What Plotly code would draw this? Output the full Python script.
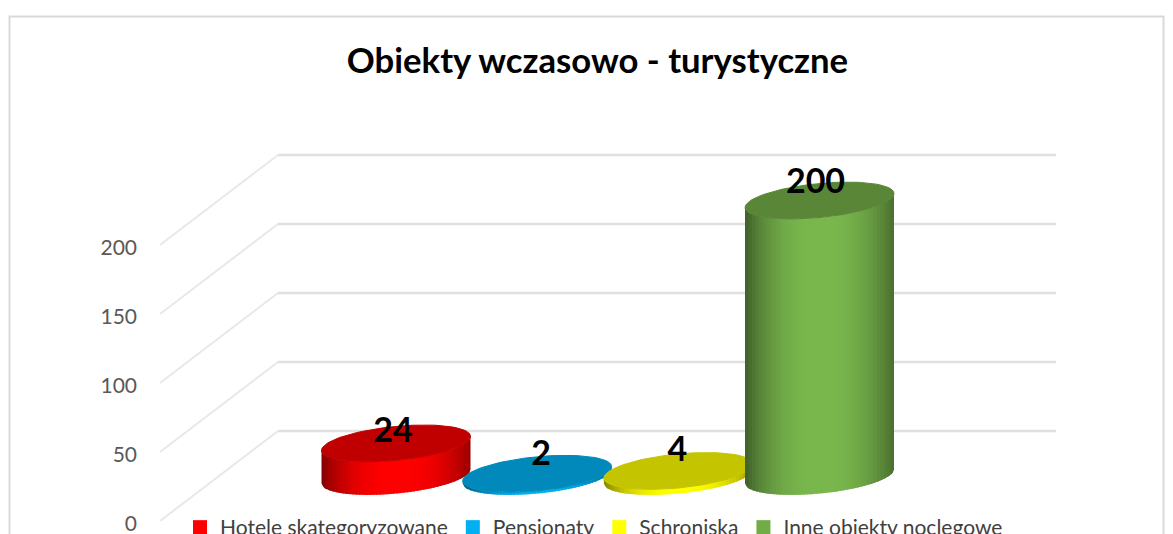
import numpy as np
import plotly.graph_objects as go

# ---- data ----
categories = ["Hotele skategoryzowane", "Pensjonaty", "Schroniska", "Inne obiekty noclegowe"]
values = [24, 2, 4, 200]
tick_values = [0, 50, 100, 150, 200]
title_text = "Obiekty wczasowo - turystyczne"

# ---- style ----
side_colors = [(255, 0, 0), (0, 176, 240), (255, 255, 0), (122, 184, 78)]
top_colors = ["#c00000", "#0089ba", "#c5c400", "#5a8638"]
legend_colors = ["#ff0000", "#00b0f0", "#ffff00", "#70ad47"]
label_nudge_px = [(-3, 10), (4, 17), (-1, 18), (-4, 16)]

W, H = 1173, 534
PX_PER_UNIT = 1.38
ZERO_PX = 521.0
CAT0_PX = 396.0
CAT_STEP_PX = 141.17
DEPTH_PX = 44.5
RX_PX = 74.5
RY_PX = 17.0
TILT_PX = 7.0
FRONT_PX, BACK_PX, RIGHT_PX = 160.0, 278.0, 1056.0
WALL_RISE_PX = 90.0

xr = [-CAT0_PX / CAT_STEP_PX, (W - CAT0_PX) / CAT_STEP_PX]
yr = [(ZERO_PX - H) / PX_PER_UNIT, ZERO_PX / PX_PER_UNIT]
dx = lambda px: px / CAT_STEP_PX
dy = lambda px: px / PX_PER_UNIT
xat = lambda px: (px - CAT0_PX) / CAT_STEP_PX

fig = go.Figure()

# grid: floor-to-wall diagonal plus the back wall line
for t in tick_values:
    fig.add_trace(go.Scatter(
        x=[xat(FRONT_PX), xat(BACK_PX)], y=[t, t + dy(WALL_RISE_PX)], mode="lines",
        line=dict(color="#e8e8e8", width=2), showlegend=False, hoverinfo="skip"))
    fig.add_trace(go.Scatter(
        x=[xat(BACK_PX), xat(RIGHT_PX)], y=[t + dy(WALL_RISE_PX)] * 2, mode="lines",
        line=dict(color="#e0e0e0", width=2.5), showlegend=False, hoverinfo="skip"))


def shade(rgb, s):
    """s in [-1, 1] across the cylinder: darker at the edges, right edge less dark."""
    edge = 0.52 if s < 0 else 0.6
    f = edge + (1 - edge) * (1 - abs(s) ** 2.4)
    return "rgb(%d,%d,%d)" % tuple(int(c * f) for c in rgb)


SLICES = 44
OVERLAP = 0.03
for i, (v, side, top) in enumerate(zip(values, side_colors, top_colors)):
    base = dy(DEPTH_PX)
    # side of the cylinder, as vertical slices following the front arcs
    edges = np.linspace(-1, 1, SLICES + 1)
    for a, b in zip(edges[:-1], edges[1:]):
        s = np.linspace(a, min(b + OVERLAP, 1), 4)
        xs = i + dx(RX_PX) * s
        lower = base + dy(TILT_PX) * s - dy(RY_PX) * np.sqrt(np.clip(1 - s ** 2, 0, 1))
        upper = lower + v
        px = np.concatenate([xs, xs[::-1]])
        py = np.concatenate([lower, upper[::-1]])
        col = shade(side, (a + b) / 2)
        fig.add_trace(go.Scatter(
            x=px, y=py, mode="lines", fill="toself", fillcolor=col,
            line=dict(color=col, width=0), showlegend=False, hoverinfo="skip"))
    # top cap
    t = np.linspace(0, 2 * np.pi, 90)
    ex = i + dx(RX_PX) * np.cos(t)
    ey = base + v + dy(TILT_PX) * np.cos(t) + dy(RY_PX) * np.sin(t)
    fig.add_trace(go.Scatter(
        x=ex, y=ey, mode="lines", fill="toself", fillcolor=top,
        line=dict(color=top, width=1), showlegend=False, hoverinfo="skip"))

# data labels
for i, (v, (nx, ny)) in enumerate(zip(values, label_nudge_px)):
    fig.add_trace(go.Scatter(
        x=[i + dx(nx)], y=[dy(DEPTH_PX) + v + dy(ny)], mode="text", text=[str(v)],
        textposition="middle center",
        textfont=dict(family="Lato", size=34, color="#000000", weight="bold"),
        showlegend=False, hoverinfo="skip"))

# legend entries
for name, col in zip(categories, legend_colors):
    fig.add_trace(go.Scatter(
        x=[None], y=[None], mode="markers", name=name,
        marker=dict(symbol="square", size=14, color=col)))

fig.update_layout(
    width=W, height=H,
    margin=dict(l=0, r=0, t=0, b=0, pad=0, autoexpand=False),
    paper_bgcolor="white", plot_bgcolor="white",
    title=dict(text=title_text, x=597.5 / W, xanchor="center", y=1 - 61 / H, yanchor="middle",
               font=dict(family="Lato", size=34.7, color="#000000", weight="bold")),
    xaxis=dict(range=xr, visible=False, fixedrange=True, domain=[0, 1]),
    yaxis=dict(range=yr, anchor="free", position=137 / W, tickvals=tick_values,
               showgrid=False, zeroline=False, showline=False, ticks="",
               ticklabelshift=3, ticklabeloverflow="allow",
               tickfont=dict(family="Lato", size=21, color="#595959"), fixedrange=True),
    legend=dict(orientation="h", x=180 / W, xanchor="left", y=1 - 507 / H, yanchor="top",
                font=dict(family="Lato", size=21, color="#404040"),
                bgcolor="rgba(0,0,0,0)", itemclick=False, itemdoubleclick=False),
    shapes=[dict(type="rect", xref="paper", yref="paper",
                 x0=9.5 / W, x1=1163.5 / W, y0=-0.2, y1=1 - 16.5 / H,
                 line=dict(color="#d9d9d9", width=2), fillcolor="rgba(0,0,0,0)", layer="below")],
    showlegend=True,
)
fig.write_html("out.html", config=dict(displayModeBar=False),
               post_script="document.body.style.margin='0';document.body.style.overflow='hidden';")
